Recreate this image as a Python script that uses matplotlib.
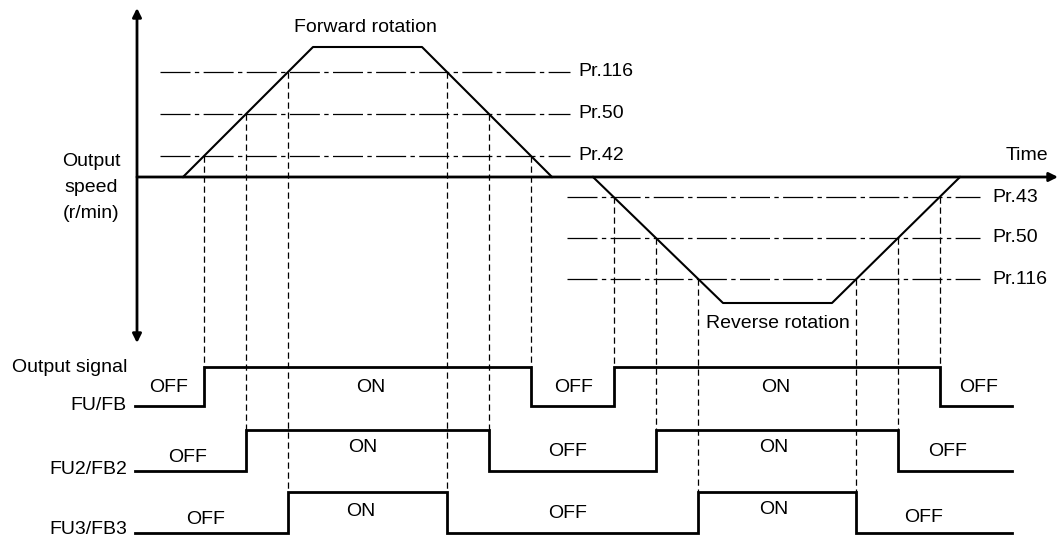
import numpy as np
import matplotlib
matplotlib.use('Agg')
import matplotlib.pyplot as plt

plt.rcParams['font.family'] = ['Liberation Sans', 'DejaVu Sans']

# speed profile (x = time, y = drawing units, axis at y=177, downwards is positive)
eje_y = 177
fwd_t = [183, 313, 422, 552]
fwd_v = [177, 47, 47, 177]
rev_t = [593, 723, 832, 960]
rev_v = [177, 303, 303, 177]

# level lines
fwd_niveles = ['Pr.116', 'Pr.50', 'Pr.42']
fwd_y = [72, 114, 156]
rev_niveles = ['Pr.43', 'Pr.50', 'Pr.116']
rev_y = [197, 238, 279]

# output signals: name, high y, low y, label y, which level turns it on
senales = ['FU/FB', 'FU2/FB2', 'FU3/FB3']
sen_alto = [367, 430, 492]
sen_bajo = [406, 471, 533]
sen_txt_y = [405, 470, 529]
fwd_idx = [2, 1, 0]  # FU -> Pr.42, FU2 -> Pr.50, FU3 -> Pr.116
rev_idx = [0, 1, 2]  # FU -> Pr.43, FU2 -> Pr.50, FU3 -> Pr.116

# ON/OFF text positions per row (x, y)
etiquetas_fila = [
    [('OFF', 169, 387), ('ON', 371, 387), ('OFF', 574, 387), ('ON', 776, 387), ('OFF', 979, 387)],
    [('OFF', 188, 457), ('ON', 363, 448), ('OFF', 568, 451), ('ON', 774, 448), ('OFF', 948, 452)],
    [('OFF', 206, 519), ('ON', 361, 512), ('OFF', 568, 514), ('ON', 774, 510), ('OFF', 924, 518)],
]


def cruces(ts, vs, y):
    # subida y bajada del trapecio donde corta el nivel y
    a = np.interp(y, [min(vs[0], vs[1]), max(vs[0], vs[1])],
                  [ts[0], ts[1]] if vs[0] < vs[1] else [ts[1], ts[0]])
    b = np.interp(y, [min(vs[2], vs[3]), max(vs[2], vs[3])],
                  [ts[2], ts[3]] if vs[2] < vs[3] else [ts[3], ts[2]])
    return a, b


fig = plt.figure(figsize=(10.6, 5.39), dpi=100)
ax = fig.add_axes([0, 0, 1, 1])
ax.set_xlim(0, 1060)
ax.set_ylim(539, 0)
ax.axis('off')

k = 'black'
fs = 14

# axes
ax.annotate('', xy=(137, 8), xytext=(137, 343),
            arrowprops=dict(arrowstyle='<|-|>', color=k, lw=2, mutation_scale=13, shrinkA=0, shrinkB=0))
ax.annotate('', xy=(1058, eje_y), xytext=(137, eje_y),
            arrowprops=dict(arrowstyle='-|>', color=k, lw=2, mutation_scale=13, shrinkA=0, shrinkB=0))

# trapezoids
ax.plot(fwd_t, fwd_v, color=k, lw=1.5)
ax.plot(rev_t, rev_v, color=k, lw=1.5)

dashdot = (0, (24, 3.5, 3.5, 3.5))
for nombre, y in zip(fwd_niveles, fwd_y):
    ax.plot([160, 570], [y, y], color=k, lw=0.9, ls=dashdot)
    ax.text(578, y, nombre, fontsize=fs, ha='left', va='center')
for nombre, y in zip(rev_niveles, rev_y):
    ax.plot([567, 980], [y, y], color=k, lw=0.9, ls=dashdot)
    ax.text(992, y, nombre, fontsize=fs, ha='left', va='center')

# signals and dashed guides
for i in range(3):
    yf = fwd_y[fwd_idx[i]]
    yr = rev_y[rev_idx[i]]
    f_on, f_off = cruces(fwd_t, fwd_v, yf)
    r_on, r_off = cruces(rev_t, rev_v, yr)
    hi, lo = sen_alto[i], sen_bajo[i]
    xs = [135, f_on, f_on, f_off, f_off, r_on, r_on, r_off, r_off, 1012]
    ys = [lo, lo, hi, hi, lo, lo, hi, hi, lo, lo]
    ax.plot(xs, ys, color=k, lw=2, solid_joinstyle='miter')
    for x, y0 in [(f_on, yf), (f_off, yf), (r_on, yr), (r_off, yr)]:
        ax.plot([x, x], [y0, hi], color=k, lw=0.9, ls=(0, (5, 3)))
    for txt, x, y in etiquetas_fila[i]:
        ax.text(x, y, txt, fontsize=fs, ha='center', va='center')
    ax.text(127, sen_txt_y[i], senales[i], fontsize=fs, ha='right', va='center')

ax.text(12, 368, 'Output signal', fontsize=fs, ha='left', va='center')
for txt, y in zip(['Output', 'speed', '(r/min)'], [161, 188, 214]):
    ax.text(91, y, txt, fontsize=fs, ha='center', va='center')

ax.text(365, 27, 'Forward rotation', fontsize=fs, ha='center', va='center')
ax.text(778, 324, 'Reverse rotation', fontsize=fs, ha='center', va='center')
ax.text(1048, 155, 'Time', fontsize=fs, ha='right', va='center')

fig.savefig('out.png', dpi=100)
